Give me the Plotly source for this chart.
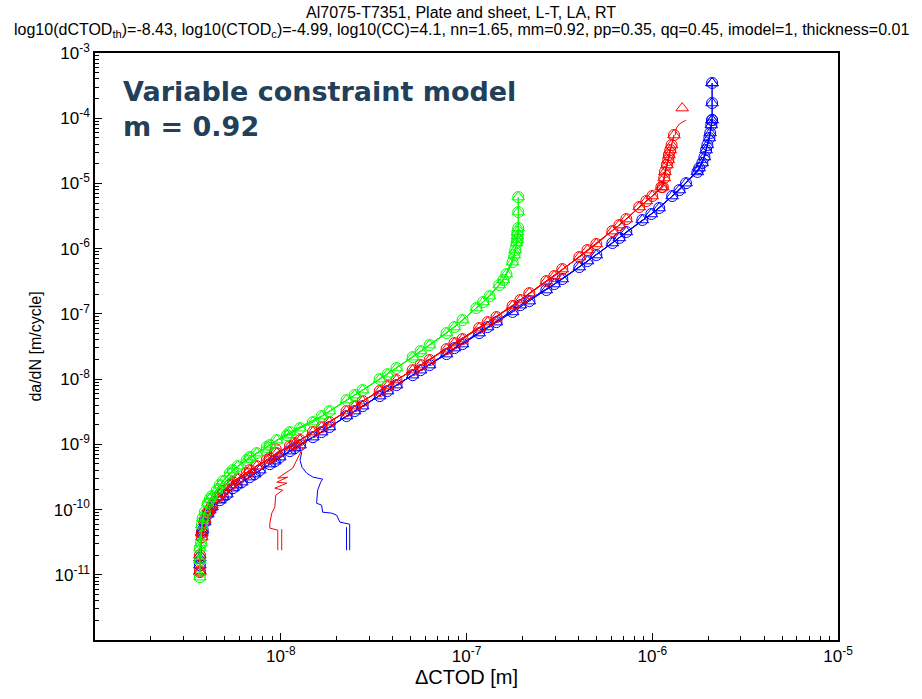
import plotly.graph_objects as go

# ---------------- data ----------------
# Green series
green_circ_x = [3.67e-9, 3.67e-9, 3.72e-9, 3.76e-9, 3.90e-9, 4.05e-9, 4.26e-9, 4.53e-9, 4.88e-9, 5.32e-9,
                5.87e-9, 6.56e-9, 7.43e-9, 8.41e-9, 9.52e-9, 1.08e-8, 1.27e-8, 1.49e-8, 1.83e-8, 2.26e-8,
                2.76e-8, 3.41e-8, 4.20e-8, 5.13e-8, 6.33e-8, 7.81e-8, 9.52e-8, 1.13e-7, 1.33e-7, 1.50e-7,
                1.64e-7, 1.77e-7, 1.83e-7, 1.88e-7, 1.90e-7, 1.90e-7, 1.90e-7]
green_circ_y = [9.19e-12, 1.67e-11, 3.05e-11, 5.77e-11, 9.12e-11, 1.25e-10, 1.61e-10, 1.98e-10, 2.73e-10, 3.61e-10,
                4.63e-10, 5.73e-10, 7.33e-10, 9.06e-10, 1.16e-9, 1.38e-9, 1.77e-9, 2.19e-9, 3.23e-9, 4.76e-9,
                6.78e-9, 1.00e-8, 1.48e-8, 2.17e-8, 3.32e-8, 5.08e-8, 8.03e-8, 1.23e-7, 1.87e-7, 2.77e-7,
                4.07e-7, 6.22e-7, 9.52e-7, 1.36e-6, 2.07e-6, 3.64e-6, 6.18e-6]
green_tri_x = [3.67e-9, 3.80e-9, 4.15e-9, 4.70e-9, 5.52e-9, 6.81e-9, 8.73e-9, 1.12e-8, 1.66e-8, 2.50e-8,
               3.76e-8, 5.66e-8, 8.61e-8, 1.23e-7, 1.58e-7, 1.81e-7, 1.86e-7, 1.88e-7, 1.88e-7]
green_tri_y = [2.56e-11, 7.38e-11, 1.45e-10, 2.37e-10, 4.02e-10, 6.36e-10, 9.72e-10, 1.54e-9, 2.71e-9, 5.69e-9,
               1.19e-8, 2.69e-8, 6.28e-8, 1.52e-7, 3.30e-7, 7.97e-7, 1.22e-6, 1.56e-6, 1.80e-6]

# Red series
red_circ_x = [3.67e-9, 3.67e-9, 3.76e-9, 3.90e-9, 4.05e-9, 4.26e-9, 4.53e-9, 4.88e-9, 5.32e-9, 5.87e-9,
              6.56e-9, 7.43e-9, 8.41e-9, 9.52e-9, 1.12e-8, 1.27e-8, 1.49e-8, 1.83e-8, 2.26e-8, 2.76e-8,
              3.41e-8, 4.20e-8, 5.13e-8, 6.33e-8, 7.81e-8, 9.52e-8, 1.17e-7, 1.45e-7, 1.77e-7, 2.18e-7,
              2.69e-7, 3.28e-7, 4.05e-7, 5.00e-7, 6.10e-7, 7.25e-7, 8.51e-7, 1.00e-6, 1.12e-6, 1.16e-6,
              1.20e-6, 1.23e-6, 1.27e-6, 1.31e-6]
red_circ_y = [1.10e-11, 2.00e-11, 4.35e-11, 6.88e-11, 9.12e-11, 1.17e-10, 1.50e-10, 1.92e-10, 2.37e-10, 2.93e-10,
              3.61e-10, 4.63e-10, 5.73e-10, 7.33e-10, 9.38e-10, 1.16e-9, 1.54e-9, 2.19e-9, 3.23e-9, 4.60e-9,
              6.55e-9, 9.65e-9, 1.37e-8, 1.96e-8, 2.88e-8, 4.11e-8, 6.06e-8, 8.93e-8, 1.32e-7, 2.08e-7,
              3.18e-7, 4.86e-7, 7.43e-7, 1.18e-6, 1.86e-6, 2.84e-6, 4.35e-6, 6.41e-6, 8.81e-6, 1.21e-5,
              1.92e-5, 2.73e-5, 3.88e-5, 5.52e-5]
red_tri_x = [3.67e-9, 3.76e-9, 4.15e-9, 4.70e-9, 5.52e-9, 6.81e-9, 8.73e-9, 1.19e-8, 1.66e-8, 2.50e-8,
             3.76e-8, 5.66e-8, 8.61e-8, 1.30e-7, 1.95e-7, 2.97e-7, 4.48e-7, 6.65e-7, 9.29e-7, 1.14e-6,
             1.17e-6, 1.22e-6, 1.25e-6]
red_tri_y = [1.15e-11, 3.78e-11, 1.01e-10, 1.72e-10, 2.63e-10, 4.02e-10, 6.14e-10, 1.04e-9, 1.84e-9, 3.85e-9,
             7.82e-9, 1.64e-8, 3.56e-8, 7.48e-8, 1.63e-7, 3.80e-7, 9.52e-7, 2.30e-6, 5.37e-6, 8.81e-6,
             1.50e-5, 2.29e-5, 3.25e-5]
red_top_tri_x = [1.45e-6]
red_top_tri_y = [1.43e-4]
red_curl_x = [1.33e-6, 1.35e-6, 1.40e-6, 1.52e-6]
red_curl_y = [5.52e-5, 7.08e-5, 8.15e-5, 9.38e-5]

# Blue series
blue_circ_x = [3.67e-9, 3.76e-9, 3.90e-9, 4.05e-9, 4.26e-9, 4.70e-9, 5.13e-9, 5.52e-9, 6.17e-9, 6.81e-9,
               7.71e-9, 8.73e-9, 9.88e-9, 1.12e-8, 1.27e-8, 1.49e-8, 1.83e-8, 2.26e-8, 2.76e-8, 3.41e-8,
               4.20e-8, 5.13e-8, 6.33e-8, 7.81e-8, 9.52e-8, 1.17e-7, 1.45e-7, 1.77e-7, 2.18e-7, 2.69e-7,
               3.28e-7, 4.05e-7, 5.00e-7, 6.10e-7, 7.25e-7, 8.84e-7, 1.09e-6, 1.28e-6, 1.52e-6, 1.75e-6,
               1.86e-6, 1.95e-6, 2.03e-6, 2.08e-6, 2.10e-6, 2.10e-6, 2.10e-6]
blue_circ_y = [1.40e-11, 4.50e-11, 6.41e-11, 8.50e-11, 1.09e-10, 1.39e-10, 1.72e-10, 2.13e-10, 2.63e-10, 3.14e-10,
               4.02e-10, 4.97e-10, 6.36e-10, 7.87e-10, 9.72e-10, 1.29e-9, 1.84e-9, 2.71e-9, 3.85e-9, 5.49e-9,
               8.09e-9, 1.15e-8, 1.64e-8, 2.42e-8, 3.44e-8, 5.08e-8, 7.48e-8, 1.07e-7, 1.57e-7, 2.32e-7,
               3.42e-7, 5.22e-7, 7.97e-7, 1.22e-6, 1.80e-6, 2.75e-6, 4.20e-6, 6.41e-6, 1.01e-5, 1.50e-5,
               2.06e-5, 3.25e-5, 4.97e-5, 7.87e-5, 9.38e-5, 1.71e-4, 3.47e-4]
blue_tri_x = [3.67e-9, 3.80e-9, 4.15e-9, 4.88e-9, 5.79e-9, 7.24e-9, 9.29e-9, 1.19e-8, 1.66e-8, 2.50e-8,
              3.76e-8, 5.66e-8, 8.61e-8, 1.30e-7, 1.95e-7, 2.97e-7, 4.48e-7, 6.65e-7, 9.89e-7, 1.40e-6,
              1.79e-6, 1.91e-6, 1.98e-6, 2.05e-6, 2.10e-6]
blue_tri_y = [1.80e-11, 4.83e-11, 9.79e-11, 1.55e-10, 2.37e-10, 3.49e-10, 5.52e-10, 8.75e-10, 1.54e-9, 3.23e-9,
              6.55e-9, 1.37e-8, 2.99e-8, 6.28e-8, 1.36e-7, 2.87e-7, 6.45e-7, 1.46e-6, 3.40e-6, 7.92e-6,
              1.72e-5, 2.54e-5, 3.88e-5, 5.93e-5, 9.38e-5]
blue_top_tri_x = [2.10e-6]
blue_top_tri_y = [3.47e-4]

# isolated circles near the knee
lone_red_x, lone_red_y = [9.40e-9], [8.40e-10]
lone_blue_x, lone_blue_y = [9.29e-9], [7.33e-10]

# model (line-only) branches at the low end
red_model_x = [1.313e-8, 1.234e-8, 1.160e-8, 9.64e-9, 1.090e-8, 9.52e-9, 1.08e-8, 9.29e-9, 1.025e-8, 9.40e-9,
               9.29e-9, 8.95e-9, 8.73e-9, 8.73e-9, 9.64e-9, 9.64e-9]
red_model_y = [8.75e-10, 6.14e-10, 4.31e-10, 3.03e-10, 3.14e-10, 2.63e-10, 2.54e-10, 2.13e-10, 1.98e-10, 1.66e-10,
               1.09e-10, 8.81e-11, 6.18e-11, 5.19e-11, 4.83e-11, 2.38e-11]
red_model2_x = [1.012e-8, 1.012e-8]
red_model2_y = [5.00e-11, 2.38e-11]
blue_model_x = [1.297e-8, 1.27e-8, 1.30e-8, 1.380e-8, 1.49e-8, 1.681e-8, 1.64e-8, 1.58e-8, 1.56e-8, 1.66e-8,
                1.68e-8, 1.88e-8, 2.00e-8, 2.08e-8, 2.35e-8, 2.35e-8]
blue_model_y = [7.59e-10, 5.73e-10, 4.47e-10, 3.61e-10, 3.14e-10, 2.93e-10, 2.63e-10, 1.98e-10, 1.25e-10, 1.17e-10,
                9.12e-11, 8.81e-11, 8.20e-11, 6.41e-11, 5.97e-11, 2.38e-11]
blue_model2_x = [2.26e-8, 2.26e-8]
blue_model2_y = [5.37e-11, 2.38e-11]

x_tickvals = [1e-8, 1e-7, 1e-6, 1e-5]
x_ticktext = ["10<sup>-8</sup>", "10<sup>-7</sup>", "10<sup>-6</sup>", "10<sup>-5</sup>"]
y_tickvals = [1e-11, 1e-10, 1e-9, 1e-8, 1e-7, 1e-6, 1e-5, 1e-4, 1e-3]
y_ticktext = ["10<sup>-11</sup>", "10<sup>-10</sup>", "10<sup>-9</sup>", "10<sup>-8</sup>", "10<sup>-7</sup>",
              "10<sup>-6</sup>", "10<sup>-5</sup>", "10<sup>-4</sup>", "10<sup>-3</sup>"]

title_line1 = "Al7075-T7351, Plate and sheet, L-T, LA, RT"
title_line2 = ("log10(dCTOD<sub>th</sub>)=-8.43, log10(CTOD<sub>c</sub>)=-4.99, log10(CC)=4.1, nn=1.65, "
               "mm=0.92, pp=0.35, qq=0.45, imodel=1, thickness=0.01")
note_text = "Variable constraint model<br>m = 0.92"

# minor tick positions (2..9 within each decade)
x_minor = [m * 10.0 ** e for e in range(-9, -5) for m in range(2, 10)]
y_minor = [m * 10.0 ** e for e in range(-12, -3) for m in range(2, 10)]

# ---------------- figure ----------------
GREEN, RED, BLUE = "#00ff00", "#ff0000", "#0000ff"
fig = go.Figure()


def line(x, y, c, w=1.0):
    fig.add_trace(go.Scatter(x=x, y=y, mode="lines", line=dict(color=c, width=w),
                             showlegend=False, hoverinfo="skip"))


def marks(x, y, c, sym, mode="lines+markers"):
    fig.add_trace(go.Scatter(x=x, y=y, mode=mode, line=dict(color=c, width=1),
                             marker=dict(symbol=sym, size=11, color=c, line=dict(color=c, width=1)),
                             showlegend=False))


def series(cx, cy, tx, ty, c):
    # each measured set is drawn with both marker shapes (circle = data, triangle = model)
    marks(tx, ty, c, "triangle-up-open")
    marks(cx, cy, c, "triangle-up-open")
    marks(cx, cy, c, "circle-open")
    marks(tx, ty, c, "circle-open")


# blue
line(blue_model_x, blue_model_y, BLUE)
line(blue_model2_x, blue_model2_y, BLUE)
series(blue_circ_x, blue_circ_y, blue_tri_x, blue_tri_y, BLUE)
marks(blue_top_tri_x, blue_top_tri_y, BLUE, "triangle-up-open", "markers")
marks(lone_blue_x, lone_blue_y, BLUE, "circle-open", "markers")
# red
line(red_model_x, red_model_y, RED)
line(red_model2_x, red_model2_y, RED)
series(red_circ_x, red_circ_y, red_tri_x, red_tri_y, RED)
line(red_curl_x, red_curl_y, RED)
marks(red_top_tri_x, red_top_tri_y, RED, "triangle-up-open", "markers")
marks(lone_red_x, lone_red_y, RED, "circle-open", "markers")
# green
series(green_circ_x, green_circ_y, green_tri_x, green_tri_y, GREEN)

FONT = "Liberation Sans, Arial, sans-serif"
axis_common = dict(type="log", showgrid=False, zeroline=False, showline=True, linecolor="black",
                   linewidth=1.5, mirror=True, ticks="inside", ticklen=7, tickcolor="black",
                   tickfont=dict(family=FONT, size=17, color="black"))

fig.update_xaxes(range=[-9, -5], tickmode="array", tickvals=x_tickvals, ticktext=x_ticktext,
                 minor=dict(tickmode="array", tickvals=x_minor, ticks="inside", ticklen=4,
                            tickcolor="black", showgrid=False),
                 title=dict(text="ΔCTOD [m]", font=dict(family=FONT, size=20, color="black"), standoff=4),
                 **axis_common)
fig.update_yaxes(range=[-12, -3], tickmode="array", tickvals=y_tickvals, ticktext=y_ticktext,
                 minor=dict(tickmode="array", tickvals=y_minor, ticks="inside", ticklen=4,
                            tickcolor="black", showgrid=False),
                 title=dict(text="da/dN [m/cycle]", font=dict(family=FONT, size=16, color="black"), standoff=8),
                 **axis_common)

PX, PW, PY, PH = 95, 743, 53, 587
fig.update_layout(
    width=922, height=699,
    margin=dict(l=95, r=84, t=53, b=59),
    paper_bgcolor="white", plot_bgcolor="white",
    annotations=[
        dict(text=title_line1, xref="paper", yref="paper", x=(461 - PX) / PW, y=1 + (PY - 12) / PH,
             xanchor="center", yanchor="middle", showarrow=False,
             font=dict(family=FONT, size=16, color="black")),
        dict(text=title_line2, xref="paper", yref="paper", x=(461 - PX) / PW, y=1 + (PY - 31) / PH,
             xanchor="center", yanchor="middle", showarrow=False,
             font=dict(family=FONT, size=16, color="black")),
        dict(text="<b>" + note_text + "</b>", xref="paper", yref="paper",
             x=(121 - PX) / PW, y=1 - (74 - PY) / PH, xanchor="left", yanchor="top",
             align="left", showarrow=False,
             font=dict(family="DejaVu Sans, Verdana, sans-serif", size=27, color="#22405a")),
    ],
)

fig.write_html("out.html")
